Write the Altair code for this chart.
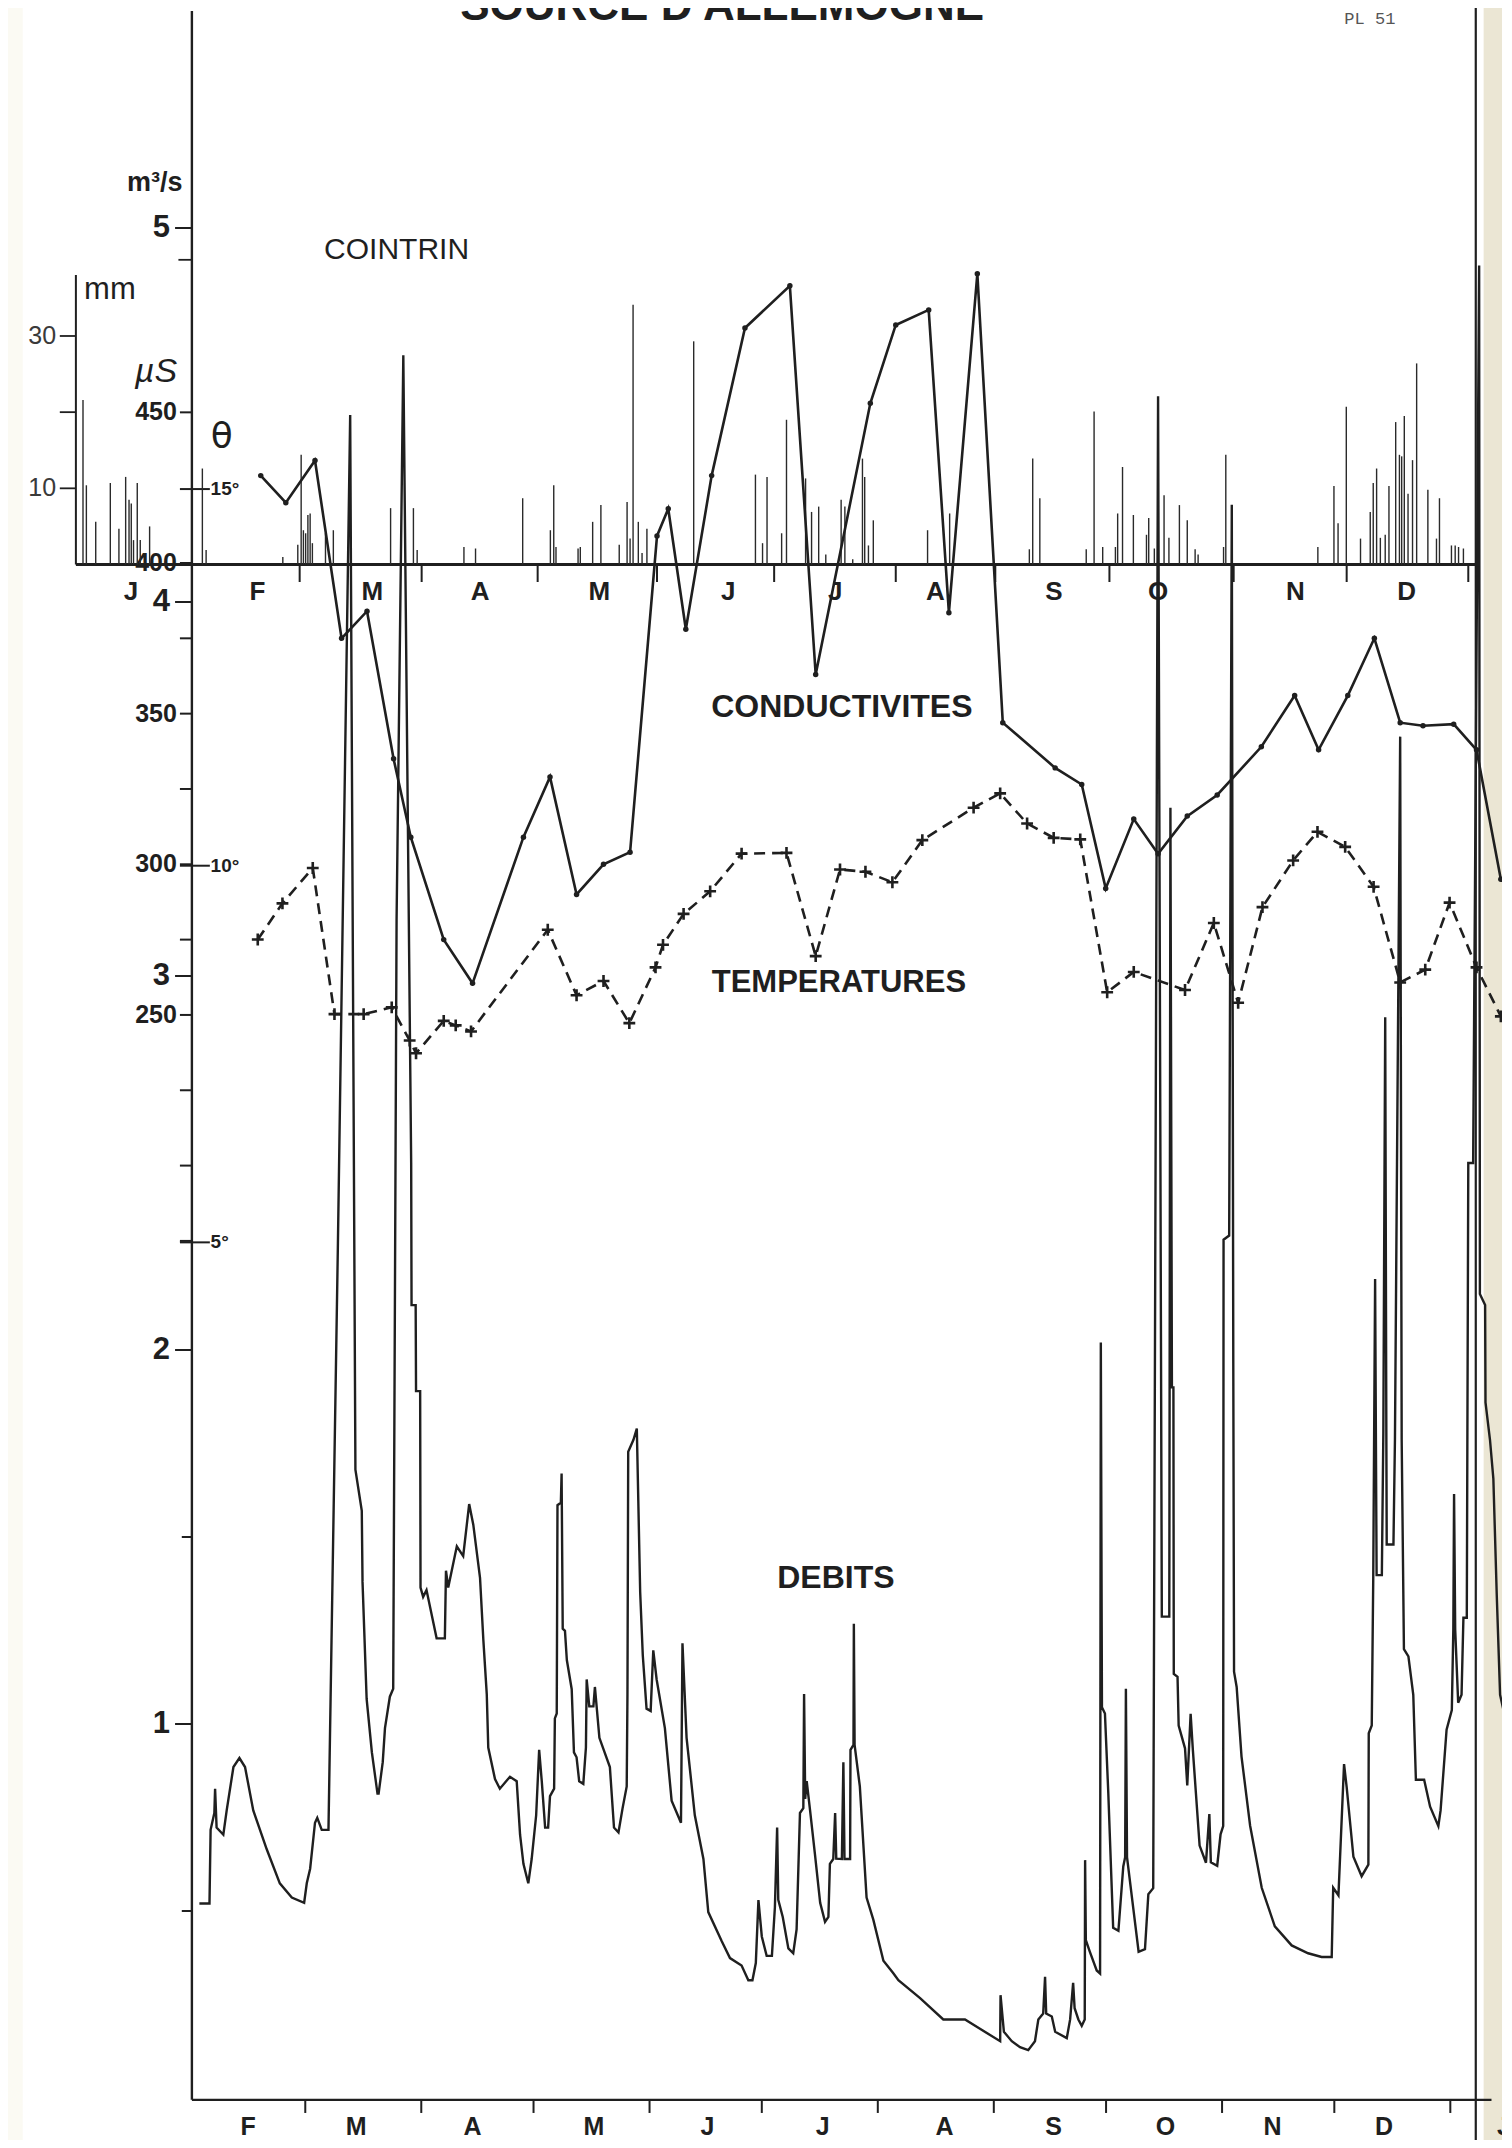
import altair as alt
import pandas as pd

# ---------------- values ----------------
# x = days counted from 1 February
DEBITS = [  # (day, discharge m3/s)
    (-0.3, 0.52), (2.4, 0.52), (2.7, 0.717), (3.7, 0.762), (3.9, 0.827), (4.3, 0.723), (6.1, 0.704),
    (7.0, 0.769), (8.8, 0.885), (10.4, 0.909), (11.9, 0.885), (14.1, 0.769), (17.7, 0.665), (21.2, 0.574),
    (24.4, 0.536), (27.7, 0.522), (28.4, 0.574), (29.3, 0.613), (30.6, 0.736), (31.2, 0.749), (32.4, 0.717),
    (34.2, 0.717), (36.7, 2.27), (40.0, 4.5), (41.4, 1.68), (43.1, 1.57), (43.3, 1.38), (44.4, 1.067),
    (45.8, 0.924), (47.3, 0.814), (47.6, 0.814), (48.7, 0.898), (49.3, 0.989), (50.6, 1.073), (51.5, 1.094),
    (52.4, 3.15), (54.2, 4.66), (56.3, 2.5), (56.4, 2.12), (57.5, 2.12), (57.6, 1.89), (58.7, 1.89),
    (58.8, 1.365), (59.5, 1.34), (60.4, 1.358), (63.1, 1.229), (65.3, 1.229), (65.6, 1.41), (66.2, 1.365),
    (68.5, 1.475), (70.2, 1.449), (71.8, 1.588), (72.9, 1.533), (74.7, 1.391), (75.6, 1.223), (76.5, 1.08),
    (76.9, 0.937), (78.7, 0.853), (80.0, 0.827), (82.7, 0.859), (84.5, 0.847), (85.4, 0.704), (86.3, 0.626),
    (87.6, 0.574), (88.5, 0.639), (89.7, 0.756), (90.5, 0.931), (91.2, 0.847), (92.1, 0.723), (92.9, 0.723),
    (93.4, 0.807), (94.5, 0.827), (94.7, 1.015), (95.2, 1.028), (95.4, 1.585), (96.3, 1.592), (96.5, 1.67),
    (96.8, 1.255), (97.4, 1.249), (97.9, 1.171), (99.2, 1.093), (99.8, 0.924), (100.5, 0.911), (101.2, 0.847),
    (102.3, 0.84), (103.0, 0.937), (103.2, 1.119), (103.9, 1.047), (105.0, 1.047), (105.4, 1.099),
    (106.6, 0.963), (109.4, 0.885), (110.5, 0.723), (111.7, 0.71), (112.8, 0.775), (113.9, 0.833),
    (114.1, 1.08), (114.3, 1.728), (115.7, 1.76), (116.6, 1.79), (117.5, 1.352), (118.2, 1.183),
    (119.2, 1.041), (120.3, 1.035), (121.0, 1.197), (121.9, 1.119), (124.1, 0.989), (125.9, 0.795),
    (128.4, 0.736), (128.8, 1.216), (129.9, 0.963), (132.1, 0.756), (134.4, 0.639), (135.7, 0.497),
    (139.3, 0.419), (141.5, 0.374), (144.6, 0.354), (146.4, 0.315), (147.5, 0.315), (148.4, 0.361),
    (149.1, 0.529), (150.0, 0.432), (151.3, 0.38), (152.7, 0.38), (153.5, 0.51), (154.1, 0.723),
    (154.4, 0.53), (155.6, 0.484), (157.1, 0.40), (158.4, 0.387), (159.3, 0.451), (160.2, 0.762),
    (161.1, 0.775), (161.3, 1.08), (161.6, 0.80), (162.0, 0.847), (162.9, 0.769), (164.2, 0.652),
    (165.6, 0.522), (166.9, 0.471), (167.8, 0.484), (168.2, 0.626), (169.1, 0.639), (169.6, 0.762),
    (169.9, 0.64), (171.4, 0.639), (171.8, 0.898), (172.1, 0.639), (173.6, 0.639), (173.7, 0.931),
    (174.5, 0.944), (174.6, 1.268), (174.8, 0.944), (176.2, 0.833), (178.0, 0.536), (179.8, 0.477),
    (182.5, 0.367), (185.1, 0.334), (186.5, 0.315), (192.3, 0.267), (198.5, 0.21), (204.3, 0.21),
    (208.3, 0.185), (213.7, 0.152), (213.8, 0.275), (214.7, 0.177), (216.8, 0.152), (219.0, 0.136),
    (221.2, 0.128), (223.0, 0.152), (223.9, 0.21), (225.2, 0.226), (225.7, 0.324), (226.0, 0.226),
    (227.5, 0.218), (228.4, 0.177), (231.5, 0.16), (232.4, 0.21), (233.2, 0.308), (233.6, 0.24),
    (234.6, 0.21), (235.5, 0.193), (236.3, 0.21), (236.4, 0.636), (236.6, 0.422), (237.7, 0.39),
    (239.5, 0.341), (240.4, 0.333), (240.6, 2.02), (240.9, 1.045), (241.7, 1.028), (242.6, 0.815),
    (243.9, 0.455), (245.3, 0.447), (246.6, 0.619), (247.1, 0.644), (247.3, 1.094), (247.6, 0.644),
    (249.3, 0.505), (250.7, 0.391), (252.4, 0.398), (253.3, 0.545), (254.6, 0.561), (255.9, 4.55),
    (256.9, 1.287), (258.9, 1.287), (259.2, 3.45), (259.6, 1.9), (260.0, 1.9), (260.1, 1.134),
    (261.1, 1.126), (261.4, 0.996), (263.1, 0.935), (263.7, 0.836), (264.6, 1.027), (265.2, 0.93),
    (267.0, 0.675), (268.7, 0.629), (269.6, 0.759), (270.0, 0.63), (271.7, 0.621), (272.6, 0.705),
    (273.3, 0.727), (273.4, 2.295), (274.9, 2.306), (275.6, 4.26), (276.0, 1.965), (276.2, 1.14),
    (276.9, 1.099), (278.2, 0.913), (280.5, 0.728), (283.6, 0.562), (287.1, 0.459), (291.6, 0.408),
    (296.0, 0.387), (299.6, 0.377), (302.3, 0.377), (302.7, 0.562), (304.1, 0.542), (305.6, 0.893),
    (306.3, 0.831), (308.1, 0.645), (310.3, 0.593), (312.1, 0.624), (312.2, 0.975), (313.0, 0.996),
    (313.4, 1.388), (313.9, 2.19), (314.3, 1.398), (315.7, 1.398), (316.1, 1.78), (316.6, 2.89),
    (316.9, 1.78), (317.0, 1.48), (318.8, 1.48), (319.2, 1.76), (320.6, 3.64), (321.0, 1.76),
    (321.6, 1.2), (322.8, 1.181), (324.1, 1.078), (324.8, 0.851), (327.0, 0.851), (328.6, 0.779),
    (330.8, 0.727), (331.4, 0.769), (333.0, 0.985), (334.4, 1.037), (334.8, 1.253), (335.0, 1.615),
    (335.3, 1.253), (336.1, 1.057), (337.0, 1.078), (337.5, 1.284), (338.4, 1.284), (338.8, 2.5),
    (340.1, 2.5), (341.7, 4.9), (341.9, 2.15), (343.3, 2.12), (343.4, 1.86), (344.6, 1.76),
    (345.5, 1.656), (346.4, 1.347), (347.3, 1.078), (350.5, 0.934),
]

CONDUCTIVITY = [  # (day, micro-siemens)
    (16.1, 429), (22.8, 420), (30.6, 434), (37.7, 375), (44.5, 384), (51.6, 335), (56.2, 309),
    (65.0, 275), (72.7, 260.5), (86.3, 309), (93.4, 329), (100.5, 290), (107.7, 300), (114.8, 304),
    (122.0, 409), (125.0, 418), (129.7, 378), (136.6, 429), (145.5, 478), (157.5, 492), (164.4, 363),
    (179.0, 453), (185.8, 479), (194.6, 484), (200.0, 383.5), (207.6, 496), (214.4, 347), (228.4, 332),
    (235.5, 326.5), (241.9, 292), (249.4, 315), (255.9, 303.5), (263.7, 316), (271.7, 323), (283.5, 339),
    (292.4, 356), (298.8, 338), (306.6, 356), (313.7, 375), (320.6, 347), (326.7, 346), (334.9, 346.5),
    (341.0, 338), (347.5, 295),
]

TEMPERATURE = [  # (day, degrees C)
    (15.3, 9.02), (21.9, 9.5), (30.0, 9.97), (35.8, 8.03), (43.6, 8.03), (51.1, 8.12), (55.9, 7.68),
    (57.6, 7.51), (65.0, 7.94), (68.2, 7.88), (72.3, 7.80), (92.8, 9.15), (100.5, 8.28), (107.7, 8.47),
    (114.6, 7.91), (121.6, 8.65), (123.6, 8.95), (129.1, 9.36), (136.2, 9.66), (144.6, 10.16),
    (156.6, 10.17), (164.4, 8.8), (170.9, 9.95), (177.7, 9.92), (184.9, 9.78), (192.9, 10.34),
    (206.6, 10.77), (213.7, 10.96), (220.9, 10.56), (228.0, 10.37), (235.1, 10.35), (242.3, 8.32),
    (249.4, 8.59), (263.1, 8.35), (270.8, 9.24), (277.3, 8.18), (283.8, 9.45), (292.0, 10.07),
    (298.5, 10.45), (305.9, 10.25), (313.5, 9.72), (320.6, 8.45), (327.3, 8.62), (333.8, 9.51),
    (341.0, 8.65), (347.5, 8.0),
]

RAIN = [  # (day, mm) daily rainfall at Cointrin
    (-31.4, 21.6), (-30.5, 10.4), (-28.0, 5.6), (-24.1, 10.7), (-21.8, 4.7), (-20.0, 11.5), (-19.1, 8.5),
    (-18.5, 8.0), (-17.9, 3.2), (-16.9, 10.7), (-16.1, 3.2), (-13.6, 5.0),
    (0.5, 12.6), (1.5, 1.9), (22.0, 1.0), (26.0, 2.6), (26.9, 14.4), (27.5, 4.5), (28.1, 4.1), (28.7, 6.5),
    (29.3, 6.7), (29.9, 2.8), (33.4, 4.1), (35.5, 4.5), (50.8, 7.4), (53.5, 2.6), (56.9, 7.4), (57.9, 1.9),
    (70.4, 2.3), (73.5, 2.1), (86.1, 8.7), (93.5, 4.5), (94.4, 10.4), (95.0, 2.3), (100.9, 2.1), (101.5, 2.3),
    (104.8, 5.6), (107.0, 7.8), (111.9, 2.6), (114.0, 8.2), (114.8, 3.4), (115.6, 34.1), (117.0, 5.6),
    (118.0, 1.5), (119.3, 4.7), (131.8, 29.3), (148.3, 11.8), (150.2, 2.8), (151.4, 11.5),
    (155.3, 4.1), (156.6, 19.0), (161.7, 11.3), (163.3, 6.9), (165.2, 7.6), (167.1, 1.3), (171.2, 8.5),
    (172.2, 7.6), (174.3, 0.7), (176.9, 13.9), (177.5, 11.5), (178.5, 2.5), (179.8, 5.8), (194.3, 4.5),
    (200.2, 6.7), (221.5, 2.0), (222.4, 13.9), (224.3, 8.7), (236.7, 2.0), (238.8, 20.1), (241.1, 2.3),
    (244.5, 2.3), (245.1, 6.7), (246.4, 12.8), (249.3, 6.5), (252.8, 3.9), (253.4, 6.1), (254.9, 2.1),
    (257.5, 9.1), (258.8, 3.5), (261.6, 7.8), (263.7, 5.8), (265.8, 2.0), (266.6, 1.3), (273.4, 2.3),
    (274.0, 14.4), (298.6, 2.3), (302.9, 10.3), (304.0, 5.4), (306.2, 20.7), (310.0, 3.4), (312.6, 6.9),
    (313.4, 10.7), (314.3, 12.6), (315.3, 3.5), (316.6, 3.9), (317.6, 10.3), (319.4, 18.7), (320.4, 14.4),
    (321.0, 14.2), (321.7, 19.5), (322.7, 9.3), (323.9, 13.7), (325.0, 26.4), (328.0, 9.8), (330.3, 3.4),
    (331.1, 8.7), (334.3, 2.5), (335.3, 2.5), (336.2, 2.3), (337.5, 2.1),
]

BOTTOM_MONTHS = ["F", "M", "A", "M", "J", "J", "A", "S", "O", "N", "D", "J"]
BOTTOM_MONTH_POS = [12.7, 41.6, 72.7, 105.1, 135.5, 166.3, 198.8, 228.0, 257.9, 286.5, 316.3, 348.3]
BOTTOM_TICKS = [28, 59, 89, 120, 150, 181, 212, 242, 273, 303, 334]
TOP_MONTHS = ["J", "F", "M", "A", "M", "J", "J", "A", "S", "O", "N", "D"]
TOP_MONTH_POS = [-18.6, 15.2, 45.9, 74.7, 106.6, 141.0, 169.6, 196.4, 228.1, 255.9, 292.6, 322.3]
TOP_TICKS = [26.5, 59.1, 90.1, 122.0, 153.3, 185.8, 212.4, 242.9, 276.1, 306.3, 338.8]

Q_LABELS = [5, 4, 3, 2, 1]
Q_MINOR = [1.5, 0.5]
C_LABELS = [450, 400, 350, 300, 250]
C_MINOR = [375, 325, 275, 225, 200, 175]
T_LABELS = [15, 10, 5]
P_TICKS = [30, 20, 10]
P_LABELS = [30, 10]
P_MAIN_TICK = [40]

# ---------------- layout / scales ----------------
W, H = 1494, 2132
X_DOM = [-51.443, 347.81]
Q_DOM = [-0.1123, 5.5882]
C_DOM = [-123.4, 584.2]
T_DOM = [-6.916, 21.386]
P_DOM = [-206.84, 73.06]

INK = "#1f1f1f"
SANS = "Liberation Sans"
AXIS_X = -2.3      # main vertical axis
MM_AXIS_X = -33.3  # rainfall axis


def X(field):
    return alt.X(f"{field}:Q", scale=alt.Scale(domain=X_DOM, nice=False, zero=False), axis=None)


def Y(field, dom):
    return alt.Y(f"{field}:Q", scale=alt.Scale(domain=dom, nice=False, zero=False), axis=None)


def hrules(values, dom, x1, x2, width=2.0, color=INK):
    df = pd.DataFrame({"v": values, "a": x1, "b": x2})
    return alt.Chart(df).mark_rule(color=color, strokeWidth=width).encode(
        x=X("a"), x2=alt.X2("b"), y=Y("v", dom))


def vrules(days, dom, y1, y2, width=2.0, color=INK):
    df = pd.DataFrame({"d": days, "y1": y1, "y2": y2})
    return alt.Chart(df).mark_rule(color=color, strokeWidth=width).encode(
        x=X("d"), y=Y("y1", dom), y2=alt.Y2("y2"))


def texts(days, vals, labels, dom, **mark):
    df = pd.DataFrame({"d": days, "v": vals, "t": labels})
    props = dict(font=SANS, color=INK, baseline="middle")
    props.update(mark)
    return alt.Chart(df).mark_text(**props).encode(x=X("d"), y=Y("v", dom), text="t:N")


def rect(d1, d2, color):
    df = pd.DataFrame({"a": [d1], "b": [d2], "y1": [Q_DOM[0]], "y2": [Q_DOM[1]]})
    return alt.Chart(df).mark_rect(color=color).encode(
        x=X("a"), x2=alt.X2("b"), y=Y("y1", Q_DOM), y2=alt.Y2("y2"))


layers = []

# page tints (left edge and right binding shadow)
layers.append(rect(-51.443, -47.5, "#fbfaf3"))
layers.append(rect(342.9, 347.81, "#ebe6d4"))
layers.append(vrules([340.8], Q_DOM, Q_DOM[0], Q_DOM[1], width=2.2))

# title (cut by the top edge of the scanned page) and plate number
layers.append(texts([139.4], [5.556], ["SOURCE D'ALLEMOGNE"], Q_DOM, fontSize=44,
                    fontWeight="bold", baseline="alphabetic", align="center"))
layers.append(texts([312.5], [5.545], ["PL 51"], Q_DOM, fontSize=17, font="Liberation Mono",
                    color="#555555", baseline="alphabetic", align="center"))

# main axis + bottom time axis
layers.append(vrules([AXIS_X], Q_DOM, -0.005, 5.58, width=2.4))
layers.append(hrules([-0.005], Q_DOM, AXIS_X, 345.0, width=2.2))
layers.append(vrules(BOTTOM_TICKS, Q_DOM, -0.005, -0.04, width=2.0))
layers.append(texts(BOTTOM_MONTH_POS, [-0.0775] * len(BOTTOM_MONTHS), BOTTOM_MONTHS, Q_DOM,
                    fontSize=25, fontWeight="bold", align="center"))

# rainfall strip: baseline, mm axis, ticks, month labels
layers.append(hrules([0], P_DOM, MM_AXIS_X, 341.0, width=3.0))
layers.append(vrules([MM_AXIS_X], P_DOM, 0, 38, width=2.0))
layers.append(hrules(P_TICKS, P_DOM, -37.6, MM_AXIS_X, width=1.8))
layers.append(texts([-38.6] * len(P_LABELS), P_LABELS, [str(v) for v in P_LABELS], P_DOM,
                    fontSize=25, align="right", color="#3a3a3a"))
layers.append(hrules(P_MAIN_TICK, P_DOM, -5.9, AXIS_X, width=1.8))
layers.append(vrules(TOP_TICKS, P_DOM, 0, -2.3, width=2.0))
layers.append(texts(TOP_MONTH_POS, [-3.61] * len(TOP_MONTHS), TOP_MONTHS, P_DOM,
                    fontSize=26, fontWeight="bold", align="center"))

# discharge axis
layers.append(hrules(Q_LABELS, Q_DOM, -6.8, AXIS_X, width=2.0))
layers.append(hrules(Q_MINOR, Q_DOM, -5.0, AXIS_X, width=2.0))
layers.append(texts([-8.15] * len(Q_LABELS), Q_LABELS, [str(v) for v in Q_LABELS], Q_DOM,
                    fontSize=31, fontWeight="bold", align="right"))

# conductivity axis
layers.append(hrules(C_LABELS + C_MINOR, C_DOM, -5.5, AXIS_X, width=2.0))
layers.append(texts([-6.3] * len(C_LABELS), C_LABELS, [str(v) for v in C_LABELS], C_DOM,
                    fontSize=25, fontWeight="bold", align="right"))

# temperature ticks
layers.append(hrules(T_LABELS, T_DOM, -5.5, 2.5, width=2.0))
layers.append(texts([2.7] * len(T_LABELS), T_LABELS, [f"{v}°" for v in T_LABELS], T_DOM,
                    fontSize=19, fontWeight="bold", align="left"))

# unit labels
layers.append(texts([-12.2], [5.098], ["m³/s"], Q_DOM, fontSize=27, fontWeight="bold",
                    align="center", baseline="alphabetic"))
layers.append(texts([-24.2], [36.0], ["mm"], P_DOM, fontSize=31, align="center"))
layers.append(texts([-11.9], [25.3], ["µS"], P_DOM, fontSize=34, fontStyle="italic", align="center"))
layers.append(texts([5.7], [16.7], ["θ"], P_DOM, fontSize=36, font="DejaVu Sans", align="center"))

# series captions
layers.append(texts([52.4], [4.941], ["COINTRIN"], Q_DOM, fontSize=30, align="center"))
layers.append(texts([171.4], [3.719], ["CONDUCTIVITES"], Q_DOM, fontSize=32, fontWeight="bold",
                    align="center"))
layers.append(texts([170.6], [2.981], ["TEMPERATURES"], Q_DOM, fontSize=31, fontWeight="bold",
                    align="center"))
layers.append(texts([169.8], [1.390], ["DEBITS"], Q_DOM, fontSize=32, fontWeight="bold",
                    align="center"))

# rainfall bars
rain_df = pd.DataFrame({"d": [r[0] for r in RAIN], "p": [r[1] for r in RAIN]})
rain_df["base"] = 0.0
layers.append(alt.Chart(rain_df).mark_rule(color="#2a2a2a", strokeWidth=1.4).encode(
    x=X("d"), y=Y("base", P_DOM), y2=alt.Y2("p")))

# discharge hydrograph
q_df = pd.DataFrame({"d": [r[0] for r in DEBITS], "q": [r[1] for r in DEBITS]})
q_df["i"] = range(len(q_df))
layers.append(alt.Chart(q_df).mark_line(color=INK, strokeWidth=2.4, clip=True).encode(
    x=X("d"), y=Y("q", Q_DOM), order="i:Q"))

# conductivity
c_df = pd.DataFrame({"d": [r[0] for r in CONDUCTIVITY], "c": [r[1] for r in CONDUCTIVITY]})
c_df["i"] = range(len(c_df))
layers.append(alt.Chart(c_df).mark_line(color=INK, strokeWidth=2.6).encode(
    x=X("d"), y=Y("c", C_DOM), order="i:Q"))
layers.append(alt.Chart(c_df).mark_point(color=INK, filled=True, size=30, opacity=1).encode(
    x=X("d"), y=Y("c", C_DOM)))

# temperature
t_df = pd.DataFrame({"d": [r[0] for r in TEMPERATURE], "t": [r[1] for r in TEMPERATURE]})
t_df["i"] = range(len(t_df))
layers.append(alt.Chart(t_df).mark_line(color=INK, strokeWidth=2.6, strokeDash=[11, 7]).encode(
    x=X("d"), y=Y("t", T_DOM), order="i:Q"))
layers.append(alt.Chart(t_df).mark_point(color=INK, filled=False, size=140, strokeWidth=2.6,
                                         shape="M-1,0L1,0M0,-1L0,1", opacity=1).encode(
    x=X("d"), y=Y("t", T_DOM)))

chart = alt.layer(*layers).resolve_scale(y="independent").properties(
    width=W, height=H, padding=0, background="white",
    autosize=alt.AutoSizeParams(type="none"),
).configure_view(stroke=None)

chart.save("out.html", embed_options={"renderer": "svg", "actions": False})
